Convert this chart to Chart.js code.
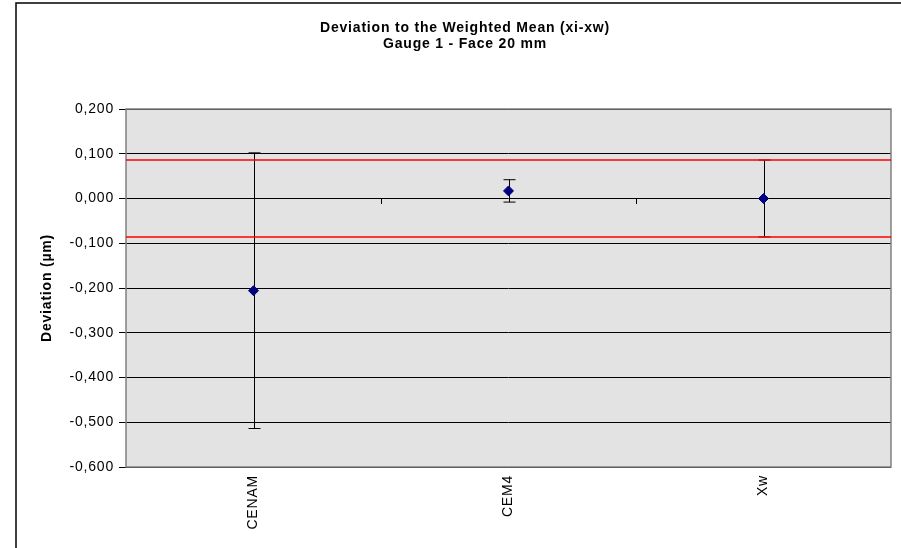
<!DOCTYPE html>
<html>
<head>
<meta charset="utf-8">
<script src="https://cdn.jsdelivr.net/npm/chart.js@4/dist/chart.umd.min.js"></script>
<style>
  body { margin: 0; background: #fff; }
  #wrap { width: 901px; height: 548px; position: relative; }
</style>
</head>
<body>
<div id="wrap"><canvas id="deviation-chart" width="901" height="548"></canvas></div>
<script>
// values
const labs = ["CENAM", "CEM4", "Xw"];
const deviation = [-0.206, 0.017, 0.0];
const uncertainty = [0.308, 0.025, 0.086];
const limit = 0.086;
const yTicks = [0.2, 0.1, 0, -0.1, -0.2, -0.3, -0.4, -0.5, -0.6];

const xPos = labs.map((l, i) => i + 0.5);
const ctx = document.getElementById("deviation-chart");

Chart.defaults.font.family = "'Liberation Sans', Arial, sans-serif";
Chart.defaults.color = "#000";

const fmt = (v) => (Math.abs(v) < 1e-9 ? 0 : v).toFixed(3).replace(".", ",");

// plot background, border, error bars, outer frame
const excelStuff = {
  id: "excelStuff",
  beforeUpdate(chart) {
    chart.ctx.letterSpacing = "0.8px";
  },
  beforeDraw(chart) {
    const a = chart.chartArea;
    const c = chart.ctx;
    c.letterSpacing = "0.8px";
    c.save();
    c.fillStyle = "#e3e3e3";
    c.fillRect(a.left, a.top, a.right - a.left, a.bottom - a.top);
    c.restore();
  },
  beforeDatasetsDraw(chart) {
    const c = chart.ctx;
    const x = chart.scales.x;
    const y = chart.scales.y;
    const a = chart.chartArea;
    c.save();
    // category ticks on the zero line
    c.strokeStyle = "#000";
    c.lineWidth = 1;
    for (let i = 1; i < labs.length; i++) {
      const px = Math.round(x.getPixelForValue(i)) + 0.5;
      const py = Math.round(y.getPixelForValue(0));
      c.beginPath();
      c.moveTo(px, py);
      c.lineTo(px, py + 5);
      c.stroke();
    }
    // border
    c.strokeStyle = "#808080";
    c.lineWidth = 1.5;
    c.strokeRect(a.left, a.top, a.right - a.left, a.bottom - a.top);
    // error bars
    c.strokeStyle = "#000";
    c.lineWidth = 1;
    deviation.forEach((d, i) => {
      const px = Math.round(x.getPixelForValue(xPos[i])) + 0.5;
      const top = y.getPixelForValue(d + uncertainty[i]);
      const bot = y.getPixelForValue(d - uncertainty[i]);
      c.beginPath();
      c.moveTo(px, top);
      c.lineTo(px, bot);
      c.moveTo(px - 6, top);
      c.lineTo(px + 6, top);
      c.moveTo(px - 6, bot);
      c.lineTo(px + 6, bot);
      c.stroke();
    });
    c.restore();
  },
  afterDraw(chart) {
    const c = chart.ctx;
    c.save();
    c.strokeStyle = "#000";
    c.lineWidth = 1.5;
    c.strokeRect(16, 3, 1000, 1000);
    c.restore();
  },
};

new Chart(ctx, {
  type: "scatter",
  data: {
    datasets: [
      {
        label: "Deviation",
        data: deviation.map((d, i) => ({ x: xPos[i], y: d })),
        pointStyle: "rectRot",
        pointRadius: 5,
        backgroundColor: "#000080",
        borderColor: "#000080",
        showLine: false,
      },
      {
        label: "+U",
        data: [{ x: 0, y: limit }, { x: labs.length, y: limit }],
        type: "line",
        borderColor: "#ff0000",
        borderWidth: 1.5,
        pointRadius: 0,
        fill: false,
      },
      {
        label: "-U",
        data: [{ x: 0, y: -limit }, { x: labs.length, y: -limit }],
        type: "line",
        borderColor: "#ff0000",
        borderWidth: 1.5,
        pointRadius: 0,
        fill: false,
      },
    ],
  },
  options: {
    responsive: false,
    animation: false,
    layout: {
      padding: { left: 39, right: 10, top: 0, bottom: 0 },
    },
    scales: {
      x: {
        type: "linear",
        min: 0,
        max: labs.length,
        afterBuildTicks: (scale) => {
          scale.ticks = xPos.map((v) => ({ value: v }));
        },
        afterFit: (scale) => {
          scale.height = 81;
        },
        grid: { display: false, drawTicks: false },
        border: { display: false },
        ticks: {
          autoSkip: false,
          minRotation: 90,
          maxRotation: 90,
          padding: 8,
          font: { size: 14 },
          callback: (v) => labs[xPos.indexOf(v)],
        },
      },
      y: {
        min: -0.6,
        max: 0.2,
        afterBuildTicks: (scale) => {
          scale.ticks = yTicks.map((v) => ({ value: v }));
        },
        afterFit: (scale) => {
          scale.width = 87;
        },
        grid: { color: "#000", lineWidth: 1, tickLength: 7, tickColor: "#000" },
        border: { display: false },
        ticks: {
          padding: 5,
          font: { size: 14 },
          callback: (v) => fmt(v),
        },
        title: {
          display: true,
          text: "Deviation (µm)",
          font: { size: 14, weight: "bold" },
          padding: 0,
        },
      },
    },
    plugins: {
      legend: { display: false },
      tooltip: { enabled: false },
      title: {
        display: true,
        text: ["Deviation to the Weighted Mean (xi-xw)", "Gauge 1 - Face 20 mm"],
        font: { size: 14, weight: "bold", lineHeight: "16px" },
        padding: { top: 20, bottom: 57 },
      },
    },
  },
  plugins: [excelStuff],
});
</script>
</body>
</html>
